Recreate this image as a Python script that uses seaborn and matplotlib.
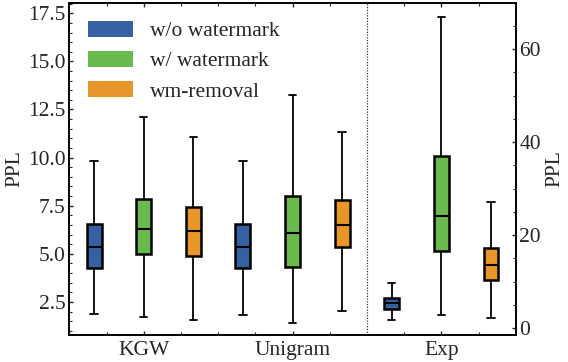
import numpy as np
import pandas as pd
import matplotlib
matplotlib.use("Agg")
import matplotlib.pyplot as plt
from matplotlib.patches import Patch
from matplotlib.ticker import MultipleLocator, FixedLocator
import seaborn as sns

sns.set_style("white")
plt.rcParams['font.family'] = ['Liberation Serif', 'DejaVu Serif']
plt.rcParams['font.size'] = 15.5
plt.rcParams['mathtext.fontset'] = 'stix'

# ---- data (five-number summaries) ----
groups = ['KGW', 'Unigram', 'Exp']
methods = ['w/o watermark', 'w/ watermark', 'wm-removal']
colors = ['#3760a3', '#6aba50', '#e8962a']
# order: KGW(3 methods), Unigram(3 methods), Exp(3 methods)
whisker_low = [1.85, 1.69, 1.55, 1.83, 1.38, 2.02, 1.78, 2.8, 2.15]
q1 = [4.27, 4.97, 4.90, 4.27, 4.32, 5.36, 4.15, 16.56, 10.4]
median = [5.35, 6.27, 6.18, 5.35, 6.08, 6.49, 5.38, 24.15, 13.55]
q3 = [6.53, 7.83, 7.44, 6.53, 8.02, 7.81, 6.58, 37.1, 17.2]
whisker_high = [9.84, 12.09, 11.08, 9.82, 13.25, 11.31, 9.8, 66.9, 27.2]

rows = []
for i in range(len(median)):
    g = groups[i // 3]
    m = methods[i % 3]
    for v in (whisker_low[i], q1[i], median[i], q3[i], whisker_high[i]):
        rows.append({'pos': i, 'group': g, 'method': m, 'PPL': v})
df = pd.DataFrame(rows)
left_df = df[df['group'] != 'Exp']
right_df = df[df['group'] == 'Exp']

palette = dict(zip(methods, colors))

fig = plt.figure(figsize=(5.68, 3.62), dpi=100)
ax = fig.add_axes([0.122, 0.0746, 0.786, 0.918])
ax2 = ax.twinx()

common = dict(x='pos', y='PPL', hue='method', palette=palette, native_scale=True,
              dodge=False, width=0.3, whis=np.inf, showfliers=False,
              linecolor='black', linewidth=1.3, legend=False, saturation=1,
              boxprops=dict(linewidth=1.8), medianprops=dict(linewidth=1.5))
sns.boxplot(data=left_df, ax=ax, **common)
sns.boxplot(data=right_df, ax=ax2, **common)

ax.set_xlim(-0.5, 8.5)
ax2.set_xlim(-0.5, 8.5)
ax.set_ylim(0.78, 18.05)
ax2.set_ylim(-1.45, 70.0)

ax.axvline(5.5, color='#333333', linestyle=(0, (1, 1.2)), linewidth=0.9)

ax.set_xticks([1, 4, 7])
ax.set_xticklabels(groups)
ax.xaxis.set_minor_locator(FixedLocator([0.25, 1.75, 2.5, 3.25, 4.75, 6.25, 7.75]))
ax.yaxis.set_major_locator(MultipleLocator(2.5))
ax.yaxis.set_minor_locator(MultipleLocator(0.5))
ax2.yaxis.set_major_locator(MultipleLocator(20))
ax2.yaxis.set_minor_locator(MultipleLocator(5))

ax.set_xlabel('')
ax2.set_xlabel('')
ax.set_ylabel('PPL', labelpad=3)
ax2.set_ylabel('PPL', labelpad=3)

ax.tick_params(axis='both', which='both', direction='in', top=True, bottom=True,
               left=True, right=False, labelsize=15.5)
ax.tick_params(which='major', length=3, width=1.0)
ax.tick_params(which='minor', length=2, width=0.8)
ax.tick_params(axis='x', pad=4)
ax.tick_params(axis='y', pad=2.5)
ax2.tick_params(axis='y', which='both', direction='in', left=False, right=True, labelsize=15.5, pad=2.5)
ax2.tick_params(which='major', length=3, width=1.0)
ax2.tick_params(which='minor', length=2, width=0.8)
ax2.tick_params(axis='x', which='both', top=False, bottom=False, labeltop=False, labelbottom=False)

for a in (ax, ax2):
    for s in a.spines.values():
        s.set_linewidth(1.2)
        s.set_color('black')

handles = [Patch(facecolor=c, edgecolor='none', label=m) for m, c in zip(methods, colors)]
ax.legend(handles=handles, loc='upper left', frameon=False, fontsize=15.5,
          handlelength=2.1, handleheight=0.75, handletextpad=0.8, labelspacing=0.45,
          borderaxespad=0.45)

fig.savefig('out.png', dpi=100)
